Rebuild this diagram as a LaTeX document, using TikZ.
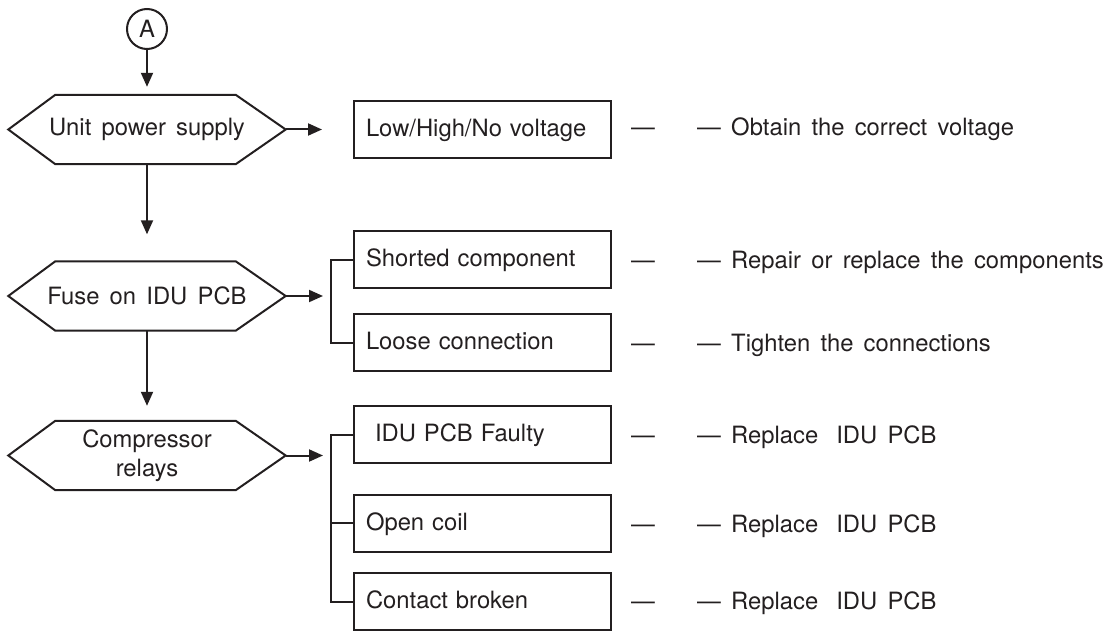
\documentclass[tikz,border=0pt]{standalone}
\usepackage{fontspec}
\setmainfont{TeX Gyre Heros}[WordSpace=1.55]
\usetikzlibrary{arrows.meta}
\definecolor{ink}{HTML}{231F20}
\begin{document}
\begin{tikzpicture}[x=1pt,y=-1pt, font=\fontsize{23.8}{29}\selectfont, text=ink,
  line/.style={draw=ink, line width=2pt},
  arr/.style={line, -{Triangle[length=14pt,width=12pt]}},
  box/.style={line, rectangle, minimum width=257pt, minimum height=57pt, text width=233pt, align=left, inner xsep=12pt, inner ysep=0pt, text height=17pt, text depth=3pt},
  hexn/.style={minimum width=277pt, minimum height=69pt, inner sep=0pt, align=center},
  txt/.style={anchor=base west, inner sep=0pt}]
\useasboundingbox (0,0) rectangle (1103,631);

% start connector
\node[circle, line, minimum size=40pt, inner sep=0pt] (A) at (147,29) {A};

% decision hexagons
\node[hexn] (h1) at (147,129.5) {Unit power supply};
\node[hexn] (h2) at (147,296) {Fuse on IDU PCB};
\node[hexn] (h3) at (147,455.5) {Compressor\\relays};
\foreach \n in {h1,h2,h3}
  \draw[line, line join=miter] (\n.west) -- ([xshift=47pt]\n.north west) -- ([xshift=-50pt]\n.north east) -- (\n.east) -- ([xshift=-50pt]\n.south east) -- ([xshift=47pt]\n.south west) -- cycle;

% cause boxes
\node[box] (b1) at (482.5,129.5) {Low/High/No voltage};
\node[box] (b2) at (482.5,259.5) {Shorted component};
\node[box] (b3) at (482.5,342.5) {Loose connection};
\node[box] (b4) at (482.5,434.5) {\hspace*{9pt}IDU PCB Faulty};
\node[box] (b5) at (482.5,523) {Open coil};
\node[box] (b6) at (482.5,601.5) {Contact broken};

% dashes and remedies
\node[txt] (d1) at (631,136) {—};
\node[txt] (s1) at (697,136) {— Obtain the correct voltage};
\node[txt] (d2) at (631,268) {—};
\node[txt] (s2) at (697,268) {— Repair or replace the components};
\node[txt] (d3) at (631,351) {—};
\node[txt] (s3) at (697,351) {— Tighten the connections};
\node[txt] (d4) at (631,443) {—};
\node[txt] (s4) at (697,443) {— Replace\hspace{18pt}IDU PCB};
\node[txt] (d5) at (631,532) {—};
\node[txt] (s5) at (697,532) {— Replace\hspace{18pt}IDU PCB};
\node[txt] (d6) at (631,609) {—};
\node[txt] (s6) at (697,609) {— Replace\hspace{18pt}IDU PCB};

% vertical flow
\draw[arr, shorten >=8pt] (A) -- (h1);
\draw[arr, shorten >=27pt] (h1) -- (h2);
\draw[arr, shorten >=15pt] (h2) -- (h3);

% horizontal arrows and brackets
\draw[arr, shorten >=31pt] (h1.east) -- (b1.west);
\coordinate (j2) at (332,296);
\draw[arr, shorten >=9pt] (h2.east) -- (j2);
\draw[line] (b2.west) -- ++(-22,0) |- (b3.west);
\coordinate (j3) at (332,455.5);
\draw[arr, shorten >=9pt] (h3.east) -- (j3);
\draw[line] (b4.west) -- ++(-22,0) |- (b6.west);
\draw[line] (b5.west) -- ++(-22,0);
\end{tikzpicture}
\end{document}
